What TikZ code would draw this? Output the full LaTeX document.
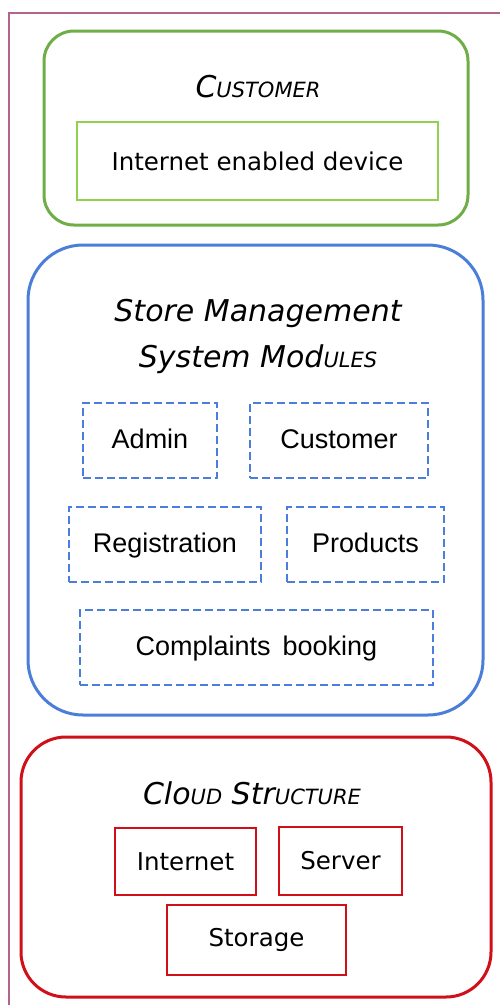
\documentclass[tikz,border=0pt]{standalone}
\usepackage{fontspec}
\setmainfont{DejaVu Sans}
\newfontfamily\arialfont{Liberation Sans}
\usepackage{xcolor}
\usepackage{tikz}
\usetikzlibrary{positioning}
\definecolor{framecol}{RGB}{180,100,140}
\definecolor{custgreen}{RGB}{112,173,71}
\definecolor{devgreen}{RGB}{146,208,80}
\definecolor{modblue}{RGB}{74,126,216}
\definecolor{cloudred}{RGB}{208,16,24}
\newcommand{\smc}[1]{{\fontsize{21}{25}\selectfont #1}}
\tikzstyle{group}= [draw, rectangle, line width=3pt]
\tikzstyle{title}= [font=\fontsize{30}{46}\selectfont\itshape, align=center]
\tikzstyle{device}= [draw=devgreen, line width=1.8pt, font=\fontsize{24.5}{29}\selectfont]
\tikzstyle{module}= [draw=modblue, line width=2.6pt, dash pattern=on 8pt off 4pt, minimum height=75pt, text height=20pt, text depth=4pt, font=\arialfont\fontsize{27}{31}\selectfont]
\tikzstyle{cloudbox}= [draw=cloudred, line width=2pt, font=\fontsize{24.5}{29}\selectfont]

\begin{document}
\begin{tikzpicture}[x=10pt, y=-10pt]
				\useasboundingbox (0, 0) rectangle (49.9, 100.5);
				\draw[framecol, line width=2.5pt] (0.9, 102) -- (0.9, 1.3) -- (51, 1.3);

				\node[group, draw=custgreen, rounded corners=30pt, minimum width=424pt, minimum height=194pt] (customer) at (25.6, 12.8) {};
				\node[title] (customertitle) at (25.8, 8.7) {C\smc{USTOMER}};
				\node[device, minimum width=361pt, minimum height=78pt] (device) at (25.75, 16.1) {Internet enabled device};

				\node[group, draw=modblue, rounded corners=55pt, minimum width=455pt, minimum height=470pt] (system) at (25.55, 48.0) {};
				\node[title] (systemtitle) at (25.8, 33.6) {Store Management\\System Mod\smc{ULES}};
				\node[module, minimum width=134pt] (admin) at (15.0, 44.05) {Admin};
				\node[module, minimum width=178pt] (modcustomer) at (33.9, 44.05) {Customer};
				\node[module, minimum width=192pt] (registration) at (16.5, 54.45) {Registration};
				\node[module, minimum width=157pt] (products) at (36.55, 54.45) {Products};
				\node[module, minimum width=353pt] (complaints) at (25.65, 64.75) {Complaints\, booking};

				\node[group, draw=cloudred, rounded corners=45pt, minimum width=470pt, minimum height=260pt] (cloud) at (25.6, 86.7) {};
				\node[title] (cloudtitle) at (25.2, 79.3) {Clo\smc{UD} Str\smc{UCTURE}};
				\node[cloudbox, minimum width=141pt, minimum height=67pt] (internet) at (18.55, 86.15) {Internet};
				\node[cloudbox, minimum width=123pt, minimum height=68pt] (server) at (34.05, 86.1) {Server};
				\node[cloudbox, minimum width=179pt, minimum height=70pt] (storage) at (25.65, 94.0) {Storage};
			\end{tikzpicture}
\end{document}
